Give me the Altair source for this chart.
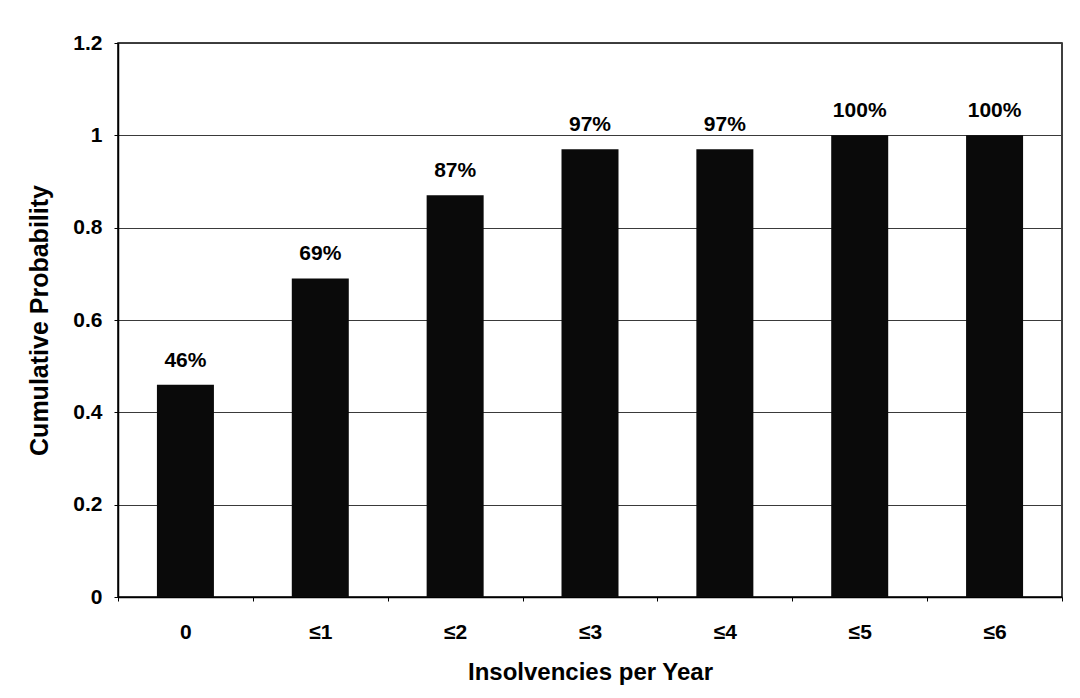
import altair as alt
import pandas as pd

categories = ["0", "≤1", "≤2", "≤3", "≤4", "≤5", "≤6"]
values = [0.46, 0.69, 0.87, 0.97, 0.97, 1.0, 1.0]
labels = ["46%", "69%", "87%", "97%", "97%", "100%", "100%"]

df = pd.DataFrame({"cat": categories, "val": values, "lab": labels})

FONT = "Liberation Sans"

x = alt.X("cat:N", sort=categories, title="Insolvencies per Year",
          scale=alt.Scale(paddingInner=0, paddingOuter=0),
          axis=alt.Axis(labelAngle=0, labelFontSize=21, labelFont=FONT, labelColor="black",
                        labelFontWeight="bold",
                        labelPadding=20, titleFontSize=24, titleFont=FONT, titleFontWeight="bold",
                        titleColor="black", titlePadding=18, tickBand="extent", tickSize=4,
                        tickColor="black", domainColor="black", domainWidth=1.5, grid=False))
y = alt.Y("val:Q", title="Cumulative Probability",
          scale=alt.Scale(domain=[0, 1.2], nice=False),
          axis=alt.Axis(values=[0, 0.2, 0.4, 0.6, 0.8, 1.0, 1.2], format="~g",
                        labelFontSize=21, labelFont=FONT, labelColor="black", labelPadding=12,
                        labelFontWeight="bold",
                        titleFontSize=25, titleFont=FONT, titleFontWeight="bold",
                        titleColor="black", titlePadding=20, tickSize=4, tickColor="black",
                        domainColor="black", domainWidth=1.5,
                        grid=True, gridColor="#3a3a3a", gridWidth=1))

bars = alt.Chart(df).mark_bar(color="#0a0a0a", size=57).encode(x=x, y=y)
text = alt.Chart(df).mark_text(baseline="alphabetic", dy=-18, fontSize=21, font=FONT,
                               fontWeight="bold", color="black").encode(
    x=alt.X("cat:N", sort=categories), y="val:Q", text="lab:N")

chart = alt.layer(bars, text).properties(
    width=944, height=554,
    autosize=alt.AutoSizeParams(type="none"),
    padding={"left": 110, "top": 35, "right": 10, "bottom": 100},
    background="white",
).configure_view(stroke="black", strokeWidth=1.5)

chart.save("out.html", embed_options={"renderer": "svg", "actions": False})
